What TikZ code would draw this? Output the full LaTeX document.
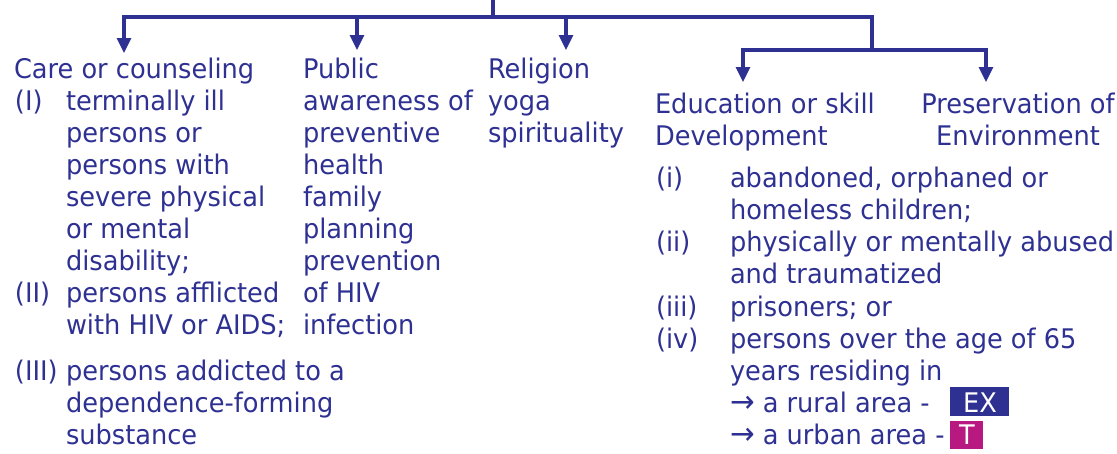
\documentclass[tikz,border=0pt]{standalone}
\usepackage{fontspec}
\setmainfont{DejaVu Sans}[FakeStretch=0.95]
\usetikzlibrary{arrows.meta}
\definecolor{navy}{RGB}{46,49,146}
\definecolor{mag}{RGB}{183,25,128}
\tikzset{
  txt/.style={anchor=base west,inner sep=0pt,outer sep=0pt,text=navy,font=\fontsize{27}{32}\selectfont},
  ctxt/.style={txt,anchor=base},
  link/.style={draw=navy,line width=3.1pt},
  arr/.style={link,-{Triangle[length=15pt,width=14pt]}},
  tag/.style={anchor=base west,inner sep=0pt,text=white,font=\fontsize{27}{32}\selectfont}
}
\newcommand\rarr{{\fontsize{31}{32}\selectfont →}}
\begin{document}
\begin{tikzpicture}[x=1pt,y=-1pt]
\useasboundingbox (0,0) rectangle (1117,453);
% connectors
\coordinate (root) at (493,0);
\coordinate (j1) at (493,17);
\coordinate (jl) at (124,17);
\coordinate (jr) at (872,17);
\coordinate (j2) at (872,50);
\coordinate (j2l) at (743,50);
\coordinate (j2r) at (986,50);
\coordinate (tcare) at (124,53);
\coordinate (tpub) at (357,50);
\coordinate (trel) at (566,50);
\coordinate (tedu) at (743,82);
\coordinate (tpres) at (986,82);
\draw[link] (root) -- (j1);
\draw[link,line cap=rect] (jl) -- (jr) -- (j2);
\draw[link,line cap=rect] (j2l) -- (j2r);
\draw[arr] (jl) -- (tcare);
\draw[arr] (tpub |- jl) -- (tpub);
\draw[arr] (trel |- jl) -- (trel);
\draw[arr] (j2l) -- (tedu);
\draw[arr] (j2r) -- (tpres);
% column 1
\node[txt] (care) at (14,78) {Care or counseling};
\node[txt] (n1) at (15,110) {(I)};
\node[txt] (c1a) at (66,110) {terminally ill};
\node[txt] (c1b) at (66,142) {persons or};
\node[txt] (c1c) at (66,174) {persons with};
\node[txt] (c1d) at (66,206) {severe physical};
\node[txt] (c1e) at (66,238) {or mental};
\node[txt] (c1f) at (66,270) {disability;};
\node[txt] (n2) at (15,302) {(II)};
\node[txt] (c2a) at (66,302) {persons afflicted};
\node[txt] (c2b) at (66,334) {with HIV or AIDS;};
\node[txt] (n3) at (15,380) {(III)};
\node[txt] (c3a) at (66,380) {persons addicted to a};
\node[txt] (c3b) at (66,412) {dependence-forming};
\node[txt] (c3c) at (66,444) {substance};
% column 2
\node[txt] (public) at (303,78) {Public};
\node[txt] (p1) at (303,110) {awareness of};
\node[txt] (p2) at (303,142) {preventive};
\node[txt] (p3) at (303,174) {health};
\node[txt] (p4) at (303,206) {family};
\node[txt] (p5) at (303,238) {planning};
\node[txt] (p6) at (303,270) {prevention};
\node[txt] (p7) at (303,302) {of HIV};
\node[txt] (p8) at (303,334) {infection};
% column 3
\node[txt] (religion) at (488,78) {Religion};
\node[txt] (r1) at (488,110) {yoga};
\node[txt] (r2) at (488,142) {spirituality};
% column 4
\node[txt] (edu) at (655,113) {Education or skill};
\node[txt] (edu2) at (655,145) {Development};
\node[txt] (i1) at (656,187) {(i)};
\node[txt] (e1a) at (730,187) {abandoned, orphaned or};
\node[txt] (e1b) at (730,219) {homeless children;};
\node[txt] (i2) at (656,251) {(ii)};
\node[txt] (e2a) at (730,251) {physically or mentally abused};
\node[txt] (e2b) at (730,283) {and traumatized};
\node[txt] (i3) at (656,316) {(iii)};
\node[txt] (e3) at (730,316) {prisoners; or};
\node[txt] (i4) at (656,348) {(iv)};
\node[txt] (e4a) at (730,348) {persons over the age of 65};
\node[txt] (e4b) at (730,380) {years residing in};
\node[txt] (e4c) at (730,412) {\rarr\ a rural area -};
\node[txt] (e4d) at (730,444) {\rarr\ a urban area -};
\fill[navy] (950,387) rectangle (1009,416);
\node[tag] (ex) at (963,412) {EX};
\fill[mag] (950,421) rectangle (983,449);
\node[tag] (t) at (959,444) {T};
% column 5
\node[ctxt] (pres) at (1018,113) {Preservation of};
\node[ctxt] (pres2) at (1018,145) {Environment};
\end{tikzpicture}
\end{document}
